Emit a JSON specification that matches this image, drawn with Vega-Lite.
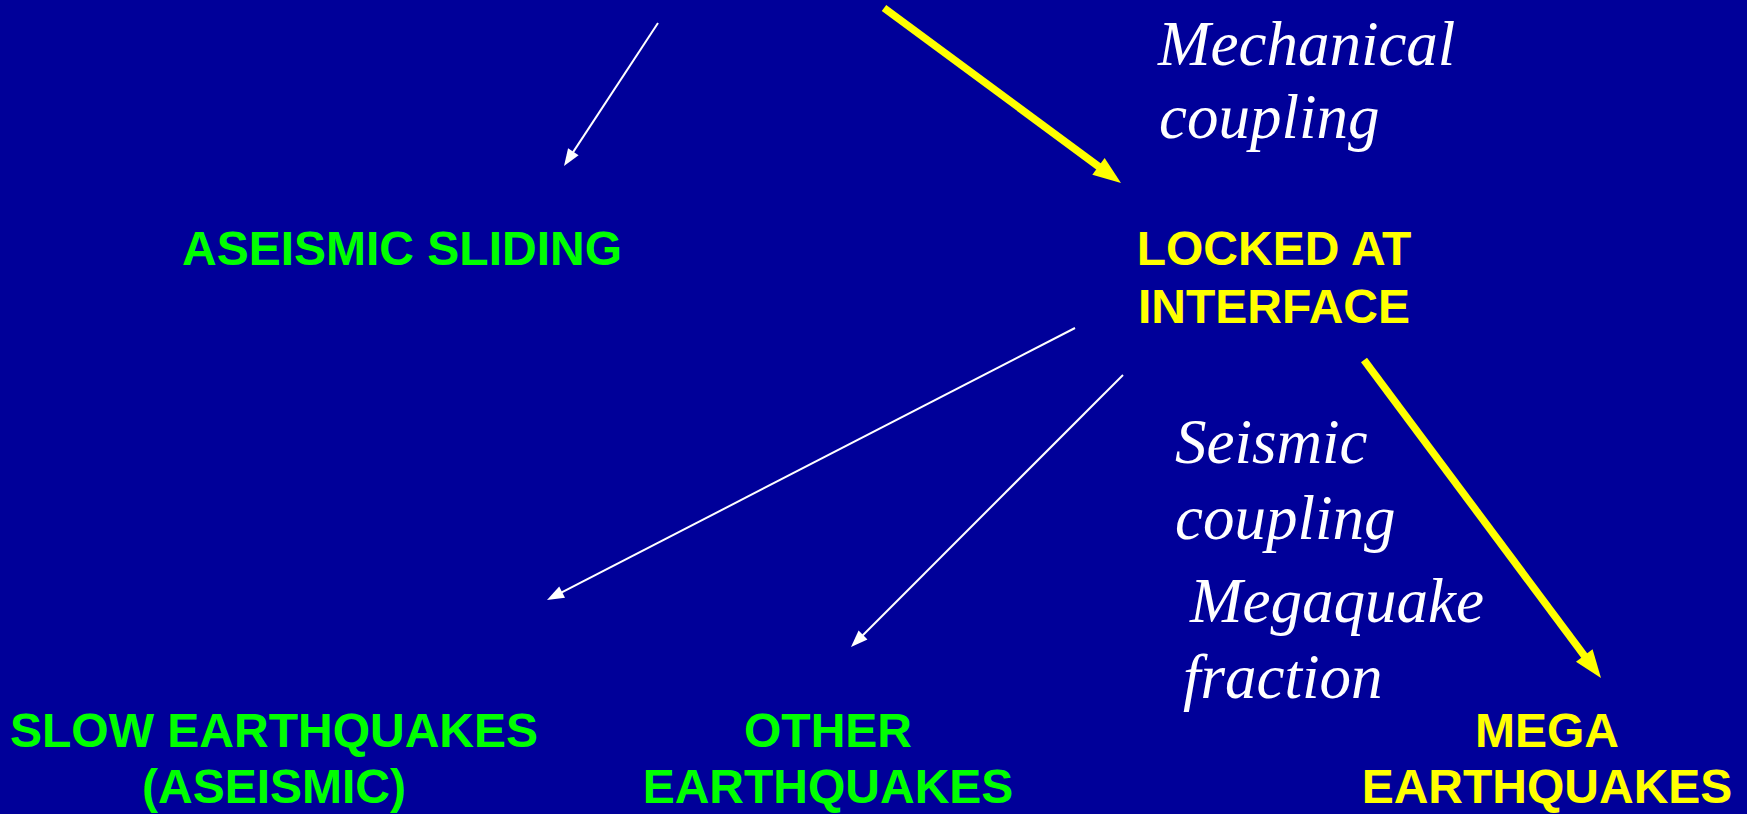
{
  "$schema": "https://vega.github.io/schema/vega-lite/v6.json",
  "width": 1747,
  "height": 814,
  "autosize": {"type": "fit", "contains": "padding"},
  "padding": 0,
  "background": "#000099",
  "config": {"view": {"stroke": null}},
  "datasets": {
    "arrows": [
      {"id": "a1", "tone": "white", "x": 658, "y": 23, "x2": 564, "y2": 166},
      {"id": "a2", "tone": "yellow", "x": 884, "y": 8, "x2": 1121, "y2": 183},
      {"id": "a3", "tone": "white", "x": 1075, "y": 328, "x2": 547, "y2": 600},
      {"id": "a4", "tone": "white", "x": 1123, "y": 375, "x2": 851, "y2": 647},
      {"id": "a5", "tone": "yellow", "x": 1364, "y": 360, "x2": 1601, "y2": 678}
    ],
    "bold": [
      {"text": "ASEISMIC SLIDING", "tone": "green", "x": 402, "y": 265},
      {"text": "LOCKED AT", "tone": "yellow", "x": 1274, "y": 265},
      {"text": "INTERFACE", "tone": "yellow", "x": 1274, "y": 323},
      {"text": "SLOW EARTHQUAKES", "tone": "green", "x": 274, "y": 747},
      {"text": "(ASEISMIC)", "tone": "green", "x": 274, "y": 803},
      {"text": "OTHER", "tone": "green", "x": 828, "y": 747},
      {"text": "EARTHQUAKES", "tone": "green", "x": 828, "y": 803},
      {"text": "MEGA", "tone": "yellow", "x": 1547, "y": 747},
      {"text": "EARTHQUAKES", "tone": "yellow", "x": 1547, "y": 803}
    ],
    "italic": [
      {"text": "Mechanical", "tone": "white", "x": 1158, "y": 65},
      {"text": "coupling", "tone": "white", "x": 1159, "y": 138},
      {"text": "Seismic", "tone": "white", "x": 1175, "y": 463},
      {"text": "coupling", "tone": "white", "x": 1175, "y": 539},
      {"text": "Megaquake", "tone": "white", "x": 1190, "y": 622},
      {"text": "fraction", "tone": "white", "x": 1183, "y": 698}
    ]
  },
  "layer": [
    {
      "data": {"name": "arrows"},
      "transform": [
        {"calculate": "sqrt(pow(datum.x2 - datum.x, 2) + pow(datum.y2 - datum.y, 2))", "as": "len"},
        {"calculate": "datum.tone == 'yellow' ? 20 : 10", "as": "back"},
        {"calculate": "datum.x2 - (datum.x2 - datum.x) / datum.len * datum.back", "as": "ex"},
        {"calculate": "datum.y2 - (datum.y2 - datum.y) / datum.len * datum.back", "as": "ey"}
      ],
      "mark": {"type": "rule", "strokeCap": "butt"},
      "encoding": {
        "x": {"field": "x", "type": "quantitative", "scale": {"domain": [0, 1747]}, "axis": null},
        "y": {"field": "y", "type": "quantitative", "scale": {"domain": [0, 814], "reverse": true}, "axis": null},
        "x2": {"field": "ex"},
        "y2": {"field": "ey"},
        "color": {"field": "tone", "type": "nominal", "scale": {"domain": ["white", "yellow", "green"], "range": ["#ffffff", "#ffff00", "#00ff00"]}, "legend": null},
        "strokeWidth": {"field": "tone", "type": "nominal", "scale": {"domain": ["white", "yellow"], "range": [2, 7.5]}, "legend": null}
      }
    },
    {
      "data": {"name": "arrows"},
      "transform": [
        {"calculate": "atan2(datum.x2 - datum.x, datum.y - datum.y2) * 180 / PI", "as": "ang"}
      ],
      "mark": {"type": "point", "shape": "M0,0L-0.37,1L0.37,1Z", "filled": true, "opacity": 1, "strokeWidth": 0},
      "encoding": {
        "x": {"field": "x2", "type": "quantitative", "scale": {"domain": [0, 1747]}, "axis": null},
        "y": {"field": "y2", "type": "quantitative", "scale": {"domain": [0, 814], "reverse": true}, "axis": null},
        "angle": {"field": "ang", "type": "quantitative", "scale": null},
        "color": {"field": "tone", "type": "nominal", "scale": {"domain": ["white", "yellow", "green"], "range": ["#ffffff", "#ffff00", "#00ff00"]}, "legend": null},
        "size": {"field": "tone", "type": "nominal", "scale": {"domain": ["white", "yellow"], "range": [1156, 3136]}, "legend": null}
      }
    },
    {
      "data": {"name": "bold"},
      "mark": {"type": "text", "font": "Liberation Sans", "fontWeight": "bold", "fontSize": 48, "align": "center", "baseline": "alphabetic"},
      "encoding": {
        "x": {"field": "x", "type": "quantitative", "scale": {"domain": [0, 1747]}, "axis": null},
        "y": {"field": "y", "type": "quantitative", "scale": {"domain": [0, 814], "reverse": true}, "axis": null},
        "text": {"field": "text"},
        "color": {"field": "tone", "type": "nominal", "scale": {"domain": ["white", "yellow", "green"], "range": ["#ffffff", "#ffff00", "#00ff00"]}, "legend": null}
      }
    },
    {
      "data": {"name": "italic"},
      "mark": {"type": "text", "font": "Liberation Serif", "fontStyle": "italic", "fontSize": 63, "align": "left", "baseline": "alphabetic"},
      "encoding": {
        "x": {"field": "x", "type": "quantitative", "scale": {"domain": [0, 1747]}, "axis": null},
        "y": {"field": "y", "type": "quantitative", "scale": {"domain": [0, 814], "reverse": true}, "axis": null},
        "text": {"field": "text"},
        "color": {"field": "tone", "type": "nominal", "scale": {"domain": ["white", "yellow", "green"], "range": ["#ffffff", "#ffff00", "#00ff00"]}, "legend": null}
      }
    }
  ]
}
